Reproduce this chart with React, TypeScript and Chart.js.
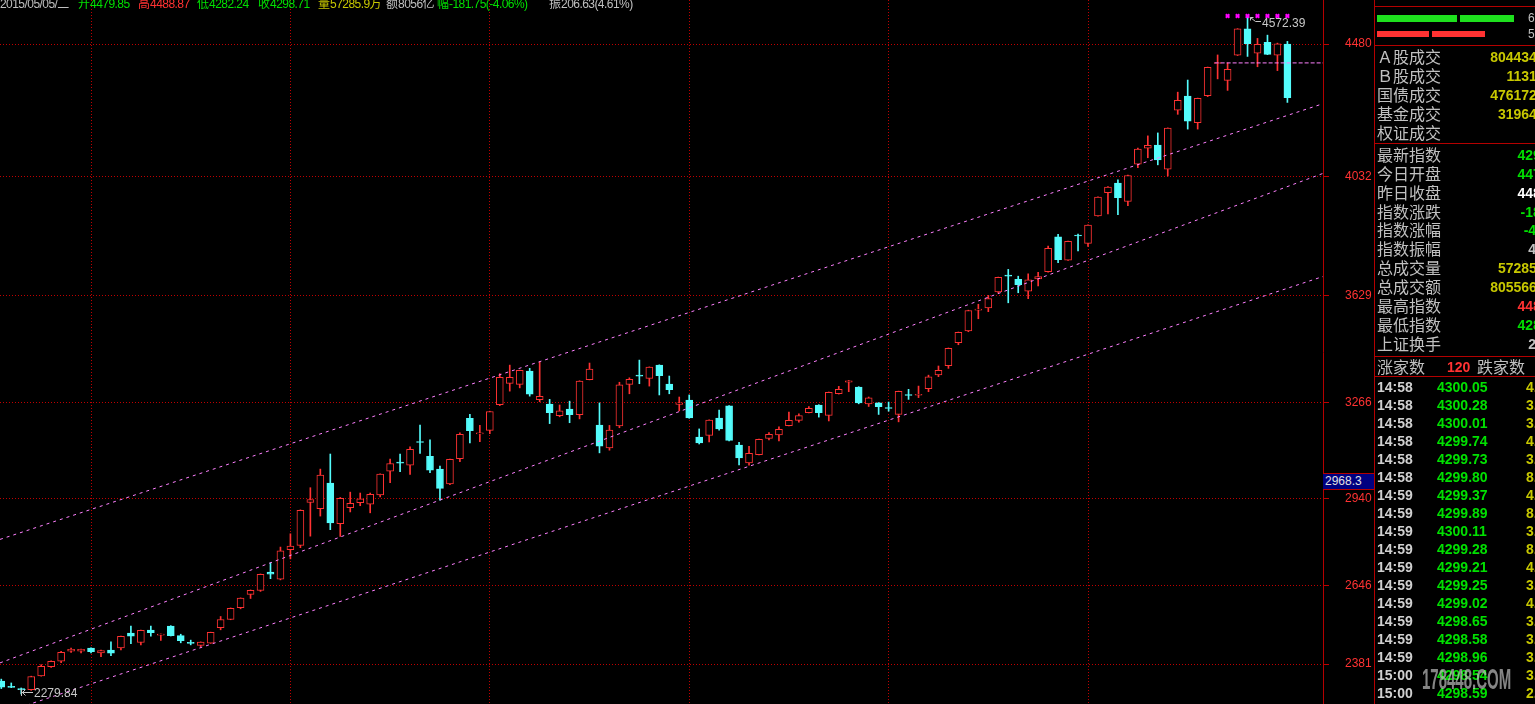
import React, { useEffect, useRef } from 'react';
import { Chart, registerables } from 'chart.js';

Chart.register(...registerables);

// ---- Daily candles (index 0 .. 129) ----
const opens = [
  2323, 2304, 2298, 2294, 2341, 2372, 2391, 2425, 2425, 2435,
  2419, 2428, 2436, 2486, 2454, 2496, 2479, 2510, 2477, 2453,
  2444, 2452, 2504, 2532, 2572, 2617, 2630, 2692, 2668, 2768,
  2783, 2928, 2907, 2994, 2856, 2910, 2927, 2922, 2954, 3034,
  3063, 3054, 3134, 3084, 3041, 2991, 3076, 3213, 3160, 3172,
  3259, 3331, 3328, 3373, 3276, 3261, 3222, 3244, 3225, 3344,
  3190, 3113, 3187, 3328, 3359, 3348, 3393, 3329, 3260, 3275,
  3149, 3155, 3214, 3255, 3122, 3062, 3090, 3145, 3157, 3188,
  3206, 3232, 3258, 3223, 3296, 3335, 3319, 3262, 3265, 3249,
  3226, 3293, 3291, 3313, 3360, 3391, 3469, 3509, 3579, 3587,
  3641, 3697, 3683, 3643, 3685, 3709, 3827, 3748, 3833, 3805,
  3898, 3977, 4009, 3947, 4073, 4127, 4138, 4056, 4256, 4304,
  4214, 4305, 4414, 4357, 4442, 4531, 4449, 4486, 4442, 4479.85,
];
const highs = [
  2330, 2317, 2300, 2340, 2379, 2392, 2424, 2435, 2432, 2436,
  2428, 2456, 2476, 2510, 2496, 2510, 2483, 2511, 2482, 2462,
  2456, 2489, 2542, 2571, 2605, 2632, 2686, 2724, 2777, 2822,
  2903, 2978, 3041, 3092, 2945, 2963, 2960, 2960, 3025, 3075,
  3092, 3116, 3190, 3140, 3051, 3075, 3164, 3226, 3189, 3237,
  3364, 3393, 3376, 3382, 3404, 3277, 3258, 3271, 3340, 3400,
  3265, 3189, 3335, 3350, 3410, 3387, 3394, 3356, 3285, 3292,
  3177, 3208, 3241, 3256, 3132, 3118, 3143, 3165, 3184, 3234,
  3228, 3253, 3259, 3302, 3321, 3341, 3320, 3285, 3266, 3268,
  3305, 3311, 3322, 3359, 3390, 3451, 3505, 3579, 3599, 3629,
  3691, 3717, 3694, 3702, 3707, 3796, 3836, 3813, 3837, 3868,
  3963, 3997, 4020, 4036, 4128, 4169, 4179, 4196, 4317, 4358,
  4297, 4402, 4443, 4416, 4532, 4572.39, 4499, 4510, 4483, 4488.87,
];
const lows = [
  2298, 2301, 2279.84, 2292, 2340, 2370, 2386, 2420, 2419, 2419,
  2406, 2409, 2429, 2450, 2446, 2475, 2461, 2476, 2453, 2446,
  2440, 2451, 2497, 2531, 2568, 2603, 2627, 2670, 2666, 2737,
  2775, 2814, 2882, 2836, 2813, 2896, 2917, 2893, 2947, 2995,
  3032, 3023, 3094, 3029, 2936, 2988, 3066, 3130, 3134, 3161,
  3256, 3305, 3316, 3288, 3269, 3195, 3218, 3198, 3211, 3343,
  3096, 3105, 3181, 3296, 3330, 3322, 3292, 3296, 3238, 3213,
  3126, 3133, 3173, 3136, 3055, 3054, 3089, 3140, 3136, 3187,
  3200, 3231, 3217, 3204, 3295, 3303, 3262, 3253, 3226, 3237,
  3201, 3277, 3283, 3303, 3354, 3382, 3462, 3506, 3550, 3574,
  3637, 3604, 3638, 3618, 3661, 3708, 3740, 3747, 3780, 3795,
  3897, 3905, 3902, 3933, 4061, 4095, 4071, 4033, 4242, 4192,
  4192, 4302, 4362, 4323, 4441, 4438, 4403, 4444, 4390, 4282.24,
];
const closes = [
  2303, 2302, 2294, 2339, 2373, 2390, 2421, 2431, 2431, 2423,
  2427, 2418, 2475, 2475, 2495, 2487, 2482, 2477, 2460, 2451,
  2455, 2488, 2532, 2570, 2604, 2631, 2685, 2685, 2764, 2780,
  2901, 2938, 3021, 2859, 2942, 2925, 2940, 2956, 3024, 3060,
  3061, 3108, 3131, 3037, 2976, 3074, 3159, 3171, 3164, 3236,
  3352, 3352, 3375, 3295, 3287, 3232, 3238, 3225, 3339, 3380,
  3119, 3173, 3326, 3345, 3356, 3386, 3357, 3310, 3265, 3214,
  3130, 3207, 3177, 3138, 3079, 3094, 3142, 3159, 3176, 3206,
  3222, 3247, 3232, 3301, 3311, 3340, 3265, 3282, 3252, 3246,
  3304, 3290, 3294, 3353, 3375, 3450, 3504, 3578, 3583, 3618,
  3690, 3694, 3665, 3682, 3693, 3788, 3750, 3812, 3830, 3867,
  3962, 3996, 3960, 4035, 4124, 4137, 4088, 4195, 4289, 4219,
  4296, 4401, 4416, 4394, 4531, 4481, 4479, 4445, 4480.46, 4298.71,
];

// ---- Axes ----
const yTickValues = [2381, 2646, 2940, 3266, 3629, 4032, 4480];
const yRange = [2245.8, 4629.0];
const xRange = [-0.13, 132.57];
const xGridIndices = [9, 29, 49, 69, 89, 109];

// ---- Channel lines (value at left edge, value at right edge) ----
const channelUpper = [2803, 4278];
const channelMiddle = [2385, 4042];
const channelLower = [2212, 3693];
const refLevel = 4416;
const refLevelStart = 121.7;
const markerIndices = [123, 124, 125, 126, 127, 128, 129];
const markerLevel = 4575;
const maxIndex = 125;
const minIndex = 2;
const cursorValue = '2968.3';

// ---- Header ----
const headerParts = [
  { x: 0, text: '2015/05/05/二', color: '#c0c0c0' },
  { x: 78, text: '开4479.85', color: '#00e000' },
  { x: 138, text: '高4488.87', color: '#ff3232' },
  { x: 197, text: '低4282.24', color: '#00e000' },
  { x: 258, text: '收4298.71', color: '#00e000' },
  { x: 318, text: '量57285.9万', color: '#c8c800' },
  { x: 386, text: '额8056亿', color: '#c0c0c0' },
  { x: 437, text: '幅-181.75(-4.06%)', color: '#00e000' },
  { x: 549, text: '振206.63(4.61%)', color: '#c0c0c0' },
];

// ---- Right panel ----
const labelsA = ['Ａ股成交', 'Ｂ股成交', '国债成交', '基金成交', '权证成交'];
const valuesA = ['8044349275', '11316850', '4761726300', '319645870', ''];
const colorsA = ['#c8c800', '#c8c800', '#c8c800', '#c8c800', '#c8c800'];
const labelsB = ['最新指数', '今日开盘', '昨日收盘', '指数涨跌', '指数涨幅', '指数振幅', '总成交量', '总成交额', '最高指数', '最低指数', '上证换手'];
const valuesB = ['4298.71', '4479.85', '4480.46', '-181.75', '-4.06%', '4.61%', '572859286', '8055668950', '4488.87', '4282.24', '2.37%'];
const colorsB = ['#00e000', '#00e000', '#ffffff', '#00e000', '#00e000', '#c0c0c0', '#c8c800', '#c8c800', '#ff3232', '#00e000', '#c0c0c0'];
const tickTimes = ['14:58', '14:58', '14:58', '14:58', '14:58', '14:58', '14:59', '14:59', '14:59', '14:59', '14:59', '14:59', '14:59', '14:59', '14:59', '14:59', '15:00', '15:00'];
const tickPrices = ['4300.05', '4300.28', '4300.01', '4299.74', '4299.73', '4299.80', '4299.37', '4299.89', '4300.11', '4299.28', '4299.21', '4299.25', '4299.02', '4298.65', '4298.58', '4298.96', '4298.54', '4298.59'];
const tickVols = ['4.52', '3.18', '3.07', '4.33', '3.26', '8.91', '4.05', '8.47', '3.62', '8.13', '4.29', '3.84', '4.71', '3.35', '3.40', '3.97', '3.58', '2.86'];

const RED = '#ff3232';
const CYAN = '#54fcfc';
const GRID = '#c00000';
const LINE = '#b40000';
const FONT = '"Liberation Sans", Arial, sans-serif';
const CJK = '"Noto Sans CJK SC", "Liberation Sans", sans-serif';

const extremesPlugin = {
  id: 'extremes',
  afterDatasetsDraw(chart: any) {
    const { ctx, scales } = chart;
    const xs = scales.x;
    const ys = scales.y;
    ctx.save();
    ctx.strokeStyle = '#c8c8c8';
    ctx.fillStyle = '#c8c8c8';
    ctx.lineWidth = 1;
    ctx.font = '12px ' + FONT;
    ctx.textBaseline = 'middle';
    ctx.textAlign = 'left';
    const hx = Math.round(xs.getPixelForValue(maxIndex));
    const hy = Math.round(ys.getPixelForValue(highs[maxIndex]));
    ctx.beginPath();
    ctx.moveTo(hx + 2.5, hy + 0.5);
    ctx.lineTo(hx + 7.5, hy + 4.5);
    ctx.lineTo(hx + 13, hy + 4.5);
    ctx.moveTo(hx + 2.5, hy + 0.5);
    ctx.lineTo(hx + 2.5, hy + 3.5);
    ctx.moveTo(hx + 2.5, hy + 0.5);
    ctx.lineTo(hx + 5.5, hy + 0.5);
    ctx.stroke();
    ctx.fillText(highs[maxIndex].toFixed(2), hx + 14, hy + 7);
    const lx = Math.round(xs.getPixelForValue(minIndex));
    const ly = Math.round(ys.getPixelForValue(lows[minIndex]));
    ctx.beginPath();
    ctx.moveTo(lx + 0.5, ly - 5);
    ctx.lineTo(lx + 0.5, ly + 2);
    ctx.moveTo(lx + 1, ly - 1.5);
    ctx.lineTo(lx + 12, ly - 1.5);
    ctx.moveTo(lx + 4.5, ly - 4.5);
    ctx.lineTo(lx + 1.5, ly - 1.5);
    ctx.lineTo(lx + 4.5, ly + 1.5);
    ctx.stroke();
    ctx.fillText(lows[minIndex].toFixed(2), lx + 13, ly);
    ctx.restore();
  },
};

function CandleChart() {
  const ref = useRef<HTMLCanvasElement | null>(null);
  useEffect(() => {
    if (!ref.current) return;
    const idx = opens.map((_, i) => i);
    const up = idx.map((i) => closes[i] >= opens[i]);
    const chart = new Chart(ref.current, {
      type: 'bar',
      data: {
        datasets: [
          {
            type: 'scatter',
            data: markerIndices.map((i) => ({ x: i, y: markerLevel })),
            pointStyle: 'crossRot',
            radius: 2.5,
            borderColor: '#ff00ff',
            backgroundColor: '#ff00ff',
            borderWidth: 2,
            order: -3,
          } as any,
          {
            type: 'line',
            data: [{ x: xRange[0], y: channelUpper[0] }, { x: xRange[1], y: channelUpper[1] }],
            borderColor: '#ff80ff',
            borderWidth: 1,
            borderDash: [3, 4],
            pointRadius: 0,
            order: -2,
          } as any,
          {
            type: 'line',
            data: [{ x: xRange[0], y: channelMiddle[0] }, { x: xRange[1], y: channelMiddle[1] }],
            borderColor: '#ff80ff',
            borderWidth: 1,
            borderDash: [3, 4],
            pointRadius: 0,
            order: -2,
          } as any,
          {
            type: 'line',
            data: [{ x: xRange[0], y: channelLower[0] }, { x: xRange[1], y: channelLower[1] }],
            borderColor: '#ff80ff',
            borderWidth: 1,
            borderDash: [3, 4],
            pointRadius: 0,
            order: -2,
          } as any,
          {
            type: 'line',
            data: [{ x: refLevelStart, y: refLevel }, { x: xRange[1], y: refLevel }],
            borderColor: '#ff80ff',
            borderWidth: 1,
            borderDash: [4, 2],
            pointRadius: 0,
            order: -2,
          } as any,
          {
            type: 'bar',
            data: idx.map((i) => ({ x: i, y: [opens[i], closes[i]] })),
            backgroundColor: idx.map((i) => (up[i] ? '#000000' : CYAN)),
            borderColor: idx.map((i) => (up[i] ? RED : CYAN)),
            borderWidth: 1,
            borderSkipped: false,
            barThickness: 7,
            grouped: false,
            minBarLength: 1,
            order: 0,
          } as any,
          {
            type: 'bar',
            data: idx.map((i) => ({ x: i, y: [lows[i], highs[i]] })),
            backgroundColor: idx.map((i) => (up[i] ? RED : CYAN)),
            borderWidth: 0,
            barThickness: 1,
            grouped: false,
            order: 1,
          } as any,
        ],
      },
      options: {
        animation: false,
        responsive: false,
        devicePixelRatio: 1,
        events: [],
        layout: { padding: 0, autoPadding: false },
        plugins: { legend: { display: false }, tooltip: { enabled: false }, title: { display: false } },
        scales: {
          x: {
            type: 'linear',
            min: xRange[0],
            max: xRange[1],
            offset: false,
            afterBuildTicks: (s: any) => {
              s.ticks = xGridIndices.map((v) => ({ value: v }));
            },
            afterFit: (s: any) => {
              s.height = 0;
              s.paddingLeft = 0;
              s.paddingRight = 0;
            },
            ticks: { display: false, font: { size: 1, lineHeight: 0.1 } },
            grid: { color: GRID, drawTicks: false, offset: false },
            border: { display: false, dash: [1, 2] },
          },
          y: {
            type: 'linear',
            position: 'right',
            min: yRange[0],
            max: yRange[1],
            afterBuildTicks: (s: any) => {
              s.ticks = yTickValues.map((v) => ({ value: v }));
            },
            afterFit: (s: any) => {
              s.width = 51;
              s.paddingTop = 0;
              s.paddingBottom = 0;
            },
            ticks: {
              color: RED,
              font: { family: FONT, size: 12, lineHeight: 0.1 },
              padding: 16,
              autoSkip: false,
              callback: (v: any) => String(v),
            },
            grid: { color: GRID, tickColor: GRID, tickLength: 6, tickBorderDash: [] },
            border: { display: true, color: LINE, width: 1, dash: [1, 2] },
          },
        },
      } as any,
      plugins: [extremesPlugin],
    });
    return () => chart.destroy();
  }, []);
  return (
    <canvas
      ref={ref}
      width={1374}
      height={704}
      style={{ position: 'absolute', left: 0, top: 0, width: 1374, height: 704 }}
    />
  );
}

function hLine(top: number, left: number, width: number) {
  return <div style={{ position: 'absolute', left, top, width, height: 1, background: LINE }} />;
}

// split text into CJK / non-CJK runs so ASCII can be narrowed like a 6px bitmap font
function runs(text: string) {
  const parts: { cjk: boolean; s: string }[] = [];
  for (const ch of text) {
    const cjk = /[\u3000-\u9fff\uff00-\uffef]/.test(ch);
    const last = parts[parts.length - 1];
    if (last && last.cjk === cjk) last.s += ch;
    else parts.push({ cjk, s: ch });
  }
  return parts.map((p, i) => (
    <span
      key={i}
      style={
        p.cjk
          ? { fontFamily: CJK, fontSize: 12 }
          : { fontFamily: FONT, fontSize: 12, letterSpacing: '-0.55px' }
      }
    >
      {p.s}
    </span>
  ));
}

export default function App() {
  const labelStyle = (top: number): React.CSSProperties => ({
    position: 'absolute',
    left: 3,
    top,
    height: 16,
    lineHeight: '16px',
    fontFamily: CJK,
    fontSize: 16,
    color: '#c0c0c0',
    whiteSpace: 'nowrap',
  });
  const valueStyle = (top: number, color: string): React.CSSProperties => ({
    position: 'absolute',
    right: -33,
    top,
    height: 16,
    lineHeight: '16px',
    fontFamily: FONT,
    fontWeight: 'bold',
    fontSize: 14,
    color,
    whiteSpace: 'nowrap',
    textAlign: 'right',
  });
  return (
    <div
      style={{
        position: 'fixed',
        left: 0,
        top: 0,
        width: 1535,
        height: 704,
        background: '#000',
        overflow: 'hidden',
      }}
    >
      <CandleChart />
      {headerParts.map((p, i) => (
        <div
          key={i}
          style={{
            position: 'absolute',
            left: p.x,
            top: -3,
            lineHeight: '12px',
            fontSize: 12,
            color: p.color,
            whiteSpace: 'nowrap',
          }}
        >
          {runs(p.text)}
        </div>
      ))}
      <div
        style={{
          position: 'absolute',
          left: 1323,
          top: 473,
          width: 52,
          height: 17,
          boxSizing: 'border-box',
          borderTop: '1px solid ' + LINE,
          borderBottom: '1px solid ' + LINE,
          background: '#000080',
          color: '#e0e0e0',
          fontFamily: FONT,
          fontSize: 12,
          lineHeight: '15px',
          paddingLeft: 2,
        }}
      >
        {cursorValue}
      </div>
      {/* right panel */}
      <div style={{ position: 'absolute', left: 1374, top: 0, width: 1, height: 704, background: LINE }} />
      <div style={{ position: 'absolute', left: 1374, top: 0, width: 161, height: 704, overflow: 'hidden' }}>
        {hLine(6, 0, 161)}
        {hLine(45, 0, 161)}
        {hLine(143, 0, 161)}
        {hLine(356, 0, 161)}
        {hLine(376, 0, 161)}
        <div style={{ position: 'absolute', left: 3, top: 15, width: 80, height: 7, background: '#1ee01e' }} />
        <div style={{ position: 'absolute', left: 86, top: 15, width: 54, height: 7, background: '#1ee01e' }} />
        <div style={{ position: 'absolute', left: 3, top: 31, width: 52, height: 6, background: RED }} />
        <div style={{ position: 'absolute', left: 58, top: 31, width: 53, height: 6, background: RED }} />
        <div style={{ position: 'absolute', left: 154, top: 12, fontFamily: FONT, fontSize: 12, lineHeight: '12px', color: '#c0c0c0' }}>68</div>
        <div style={{ position: 'absolute', left: 154, top: 28, fontFamily: FONT, fontSize: 12, lineHeight: '12px', color: '#c0c0c0' }}>52</div>
        {labelsA.map((l, i) => (
          <React.Fragment key={'a' + i}>
            <div style={labelStyle(48 + i * 19)}>{l}</div>
            <div style={valueStyle(49 + i * 19, colorsA[i])}>{valuesA[i]}</div>
          </React.Fragment>
        ))}
        {labelsB.map((l, i) => (
          <React.Fragment key={'b' + i}>
            <div style={labelStyle(146 + i * 18.85)}>{l}</div>
            <div style={valueStyle(147 + i * 18.85, colorsB[i])}>{valuesB[i]}</div>
          </React.Fragment>
        ))}
        <div style={labelStyle(358)}>涨家数</div>
        <div style={{ ...valueStyle(359, RED), right: undefined, left: 73 }}>120</div>
        <div style={{ ...labelStyle(358), left: 103 }}>跌家数</div>
        {tickTimes.map((t, i) => (
          <React.Fragment key={'t' + i}>
            <div style={{ ...valueStyle(379 + i * 18, '#d0d0d0'), right: undefined, left: 3 }}>{t}</div>
            <div style={{ ...valueStyle(379 + i * 18, '#00e000'), right: undefined, left: 63 }}>{tickPrices[i]}</div>
            <div style={{ ...valueStyle(379 + i * 18, '#c8c800'), right: undefined, left: 152 }}>{tickVols[i]}</div>
          </React.Fragment>
        ))}
        <div
          style={{
            position: 'absolute',
            left: 48,
            top: 664,
            fontFamily: FONT,
            fontWeight: 'bold',
            fontSize: 30,
            lineHeight: '30px',
            color: 'rgba(190,190,190,0.7)',
            transform: 'scaleX(0.5)',
            transformOrigin: '0 0',
            filter: 'blur(0.7px)',
            whiteSpace: 'nowrap',
          }}
        >
          178448.COM
        </div>
      </div>
    </div>
  );
}
